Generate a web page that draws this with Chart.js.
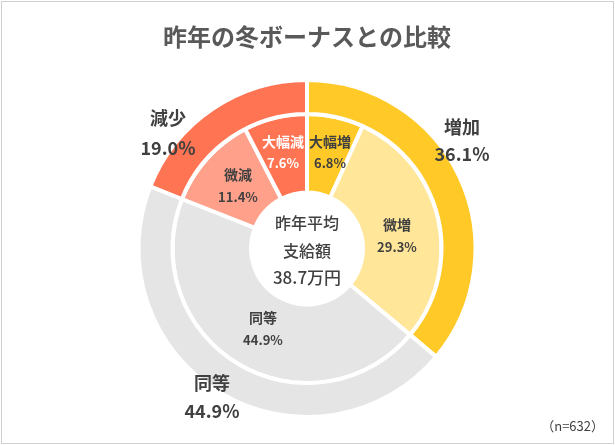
<!DOCTYPE html>
<html>
<head>
<meta charset="utf-8">
<script src="https://cdn.jsdelivr.net/npm/chart.js@4/dist/chart.umd.min.js"></script>
<style>
html,body{margin:0;padding:0;background:#fff;}
#wrap{position:relative;width:615px;height:445px;}
canvas{position:absolute;left:0;top:0;}
</style>
</head>
<body>
<div id="wrap"><canvas id="c" width="615" height="445"></canvas></div>
<script>
// ---- data ----
const chartTitle = '昨年の冬ボーナスとの比較';
const outerLabels = ['増加', '同等', '減少'];
const outerValues = [36.1, 44.9, 19.0];
const innerLabels = ['大幅増', '微増', '同等', '微減', '大幅減'];
const innerValues = [6.8, 29.3, 44.9, 11.4, 7.6];
const centerLines = ['昨年平均', '支給額', '38.7万円'];
const sampleNote = '（n=632）';

// ---- styles / layout ----
const FONT = '"Noto Sans CJK JP", "Noto Sans", sans-serif';
const outerColors = ['#FFCA28', '#E5E5E5', '#FF7453'];
const innerColors = ['#FFCA28', '#FFE699', '#E5E5E5', '#FFA18A', '#FF7453'];
const outerTextColors = ['#404040', '#404040', '#404040'];
const innerTextColors = ['#404040', '#404040', '#404040', '#404040', '#FFFFFF'];
// label anchor points [x, yLine1, yLine2]
const outerLabelPos = [[462, 127, 154], [212, 383, 411], [168, 118, 148]];
const innerLabelPos = [[330, 142, 163], [397, 225, 247], [263, 318, 340], [238, 175, 197], [283, 142, 163]];

const textPlugin = {
  id: 'texts',
  afterDraw(chart) {
    const ctx = chart.ctx;
    ctx.save();
    // frame
    ctx.strokeStyle = '#D0D0D0';
    ctx.lineWidth = 1;
    ctx.strokeRect(1.5, 1.5, 612, 442);
    ctx.textAlign = 'center';
    ctx.textBaseline = 'middle';
    // title
    ctx.fillStyle = '#595959';
    ctx.font = 'bold 24px ' + FONT;
    ctx.fillText(chartTitle, 307, 37);
    // outer labels
    outerLabels.forEach((lab, i) => {
      const p = outerLabelPos[i];
      ctx.fillStyle = outerTextColors[i];
      ctx.font = 'bold 18px ' + FONT;
      ctx.fillText(lab, p[0], p[1]);
      ctx.fillText(outerValues[i].toFixed(1) + '%', p[0], p[2]);
    });
    // inner labels
    innerLabels.forEach((lab, i) => {
      const p = innerLabelPos[i];
      ctx.fillStyle = innerTextColors[i];
      ctx.font = 'bold 14px ' + FONT;
      ctx.fillText(lab, p[0], p[1]);
      ctx.font = 'bold 13px ' + FONT;
      ctx.fillText(innerValues[i].toFixed(1) + '%', p[0], p[2]);
    });
    // center text
    const cx = (chart.chartArea.left + chart.chartArea.right) / 2;
    ctx.fillStyle = '#404040';
    ctx.font = '500 16px ' + FONT;
    ctx.fillText(centerLines[0], cx, 223);
    ctx.fillText(centerLines[1], cx, 251);
    ctx.font = '500 17px ' + FONT;
    ctx.fillText(centerLines[2], cx, 278);
    // note
    ctx.fillStyle = '#404040';
    ctx.font = '13px ' + FONT;
    ctx.textAlign = 'right';
    ctx.fillText(sampleNote, 604, 426);
    ctx.restore();
  }
};

new Chart(document.getElementById('c'), {
  type: 'doughnut',
  data: {
    labels: innerLabels,
    datasets: [
      { data: outerValues, backgroundColor: outerColors, borderColor: '#FFFFFF', borderWidth: 4, weight: 34 },
      { data: innerValues, backgroundColor: innerColors, borderColor: '#FFFFFF', borderWidth: 4, weight: 78.5 }
    ]
  },
  options: {
    responsive: false,
    animation: false,
    radius: 168.5,
    cutout: (56 / 168.5 * 100) + '%',
    layout: { padding: { top: 52, bottom: 0, left: 0, right: 1 } },
    plugins: { legend: { display: false }, tooltip: { enabled: false }, title: { display: false } }
  },
  plugins: [textPlugin]
});
</script>
</body>
</html>
